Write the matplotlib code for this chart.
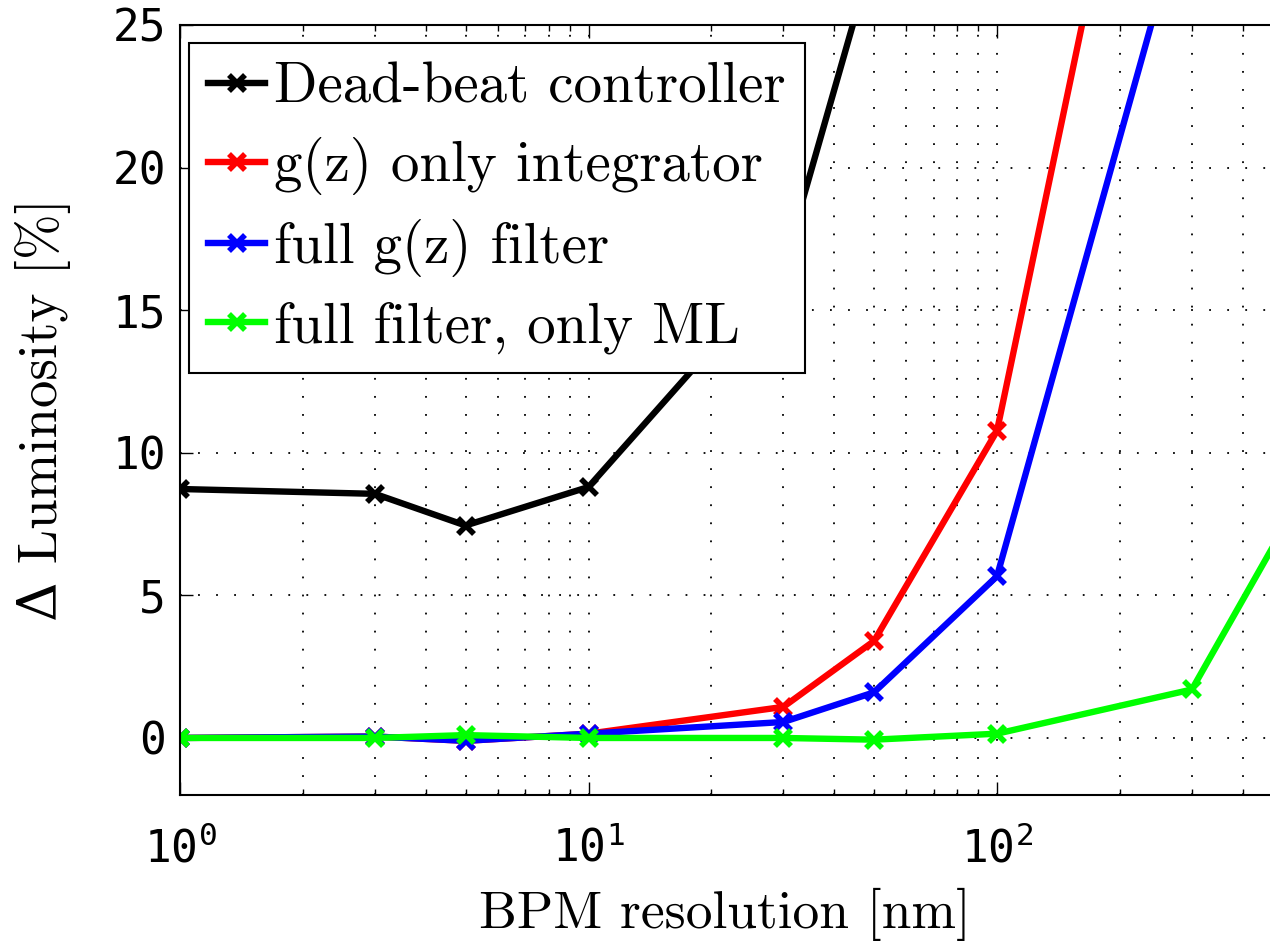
import matplotlib
matplotlib.use("Agg")
import matplotlib.pyplot as plt
from matplotlib.ticker import FixedLocator, FuncFormatter, LogLocator, NullFormatter
import numpy as np

# ---- data ----
res_dead = [1, 3, 5, 10, 30, 50]
lum_dead = [8.73, 8.56, 7.45, 8.8, 16.5, 27.6]

res_int = [1, 3, 5, 10, 30, 50, 100, 300]
lum_int = [0.0, 0.05, -0.1, 0.15, 1.09, 3.4, 10.77, 43.4]

res_full = [1, 3, 5, 10, 30, 50, 100, 300]
lum_full = [0.0, 0.05, -0.1, 0.15, 0.56, 1.6, 5.67, 30.1]

res_ml = [1, 3, 5, 10, 30, 50, 100, 300, 500]
lum_ml = [0.0, 0.0, 0.1, 0.0, 0.0, -0.06, 0.15, 1.7, 7.3]

labels = ["Dead-beat controller", "g(z) only integrator",
          "full g(z) filter", "full filter, only ML"]
colors = ["black", "#ff0000", "#0000ff", "#00ff00"]

x_major = [1, 10, 100]
y_ticks = [0, 5, 10, 15, 20, 25]

plt.rcParams['mathtext.fontset'] = 'custom'
plt.rcParams['mathtext.rm'] = 'DejaVu Sans Mono'
plt.rcParams['mathtext.it'] = 'DejaVu Sans Mono'
plt.rcParams['mathtext.bf'] = 'DejaVu Sans Mono'

serif = ['cmr10', 'DejaVu Serif']
mono = 'DejaVu Sans Mono'

fig = plt.figure(figsize=(12.7, 9.48), dpi=100)
left = 180 / 1270
bottom = 1 - 795 / 948
top = 1 - 25 / 948
ax = fig.add_axes([left, bottom, 1.0 - left, top - bottom])

lw = 4.6
for xs, ys, c, lab in zip([res_dead, res_int, res_full, res_ml],
                          [lum_dead, lum_int, lum_full, lum_ml], colors, labels):
    ax.plot(xs, ys, color=c, lw=lw, marker='x', markersize=11,
            markeredgewidth=4, label=lab, clip_on=True)

ax.set_xscale('log')
ax.set_xlim(1, 10 ** (2 + 273 / 408.5))
ax.set_ylim(-2, 25)

ax.xaxis.set_major_locator(FixedLocator(x_major))
ax.xaxis.set_minor_locator(LogLocator(base=10, subs=np.arange(2, 10), numticks=20))
ax.xaxis.set_minor_formatter(NullFormatter())
ax.xaxis.set_major_formatter(FuncFormatter(
    lambda v, p: r'$\mathregular{10^{%d}}$' % int(round(np.log10(v)))))
ax.set_yticks(y_ticks)
ax.set_yticklabels([str(t) for t in y_ticks])

for lab in ax.get_xticklabels() + ax.get_yticklabels():
    lab.set_fontfamily(mono)
    lab.set_fontsize(32)

ax.tick_params(axis='both', which='major', direction='in', length=9.5, width=1.0,
               top=True, right=False, labelsize=32)
ax.tick_params(axis='both', which='minor', direction='in', length=4.5, width=1.0,
               top=True, right=False)
ax.tick_params(axis='x', which='major', pad=23)
ax.tick_params(axis='y', which='major', pad=10)

ax.spines['right'].set_visible(False)
for s in ['left', 'top', 'bottom']:
    ax.spines[s].set_linewidth(1.5)

ax.grid(True, which='major', axis='both', color='black', linestyle=(0, (1, 9)), lw=1.3)
ax.grid(True, which='minor', axis='x', color='black', linestyle=(0, (1, 9)), lw=1.3)
ax.set_axisbelow(True)

ax.set_xlabel('BPM resolution [nm]', fontfamily=serif, fontsize=38.5, labelpad=12)
ax.set_ylabel('\u0394 Luminosity [%]', fontfamily=serif, fontsize=39.5, labelpad=30)

leg = ax.legend(loc='upper left', bbox_to_anchor=((189 - 180) / 1090, (795 - 43) / 770),
                prop={'family': serif, 'size': 41}, numpoints=1, fancybox=False,
                framealpha=1.0, edgecolor='black', handlelength=1.0,
                handletextpad=0.15, borderaxespad=0.0, borderpad=0.34,
                labelspacing=0.42)
leg.get_frame().set_linewidth(1.5)
leg.set_zorder(10)

fig.savefig('out.png', dpi=100)
